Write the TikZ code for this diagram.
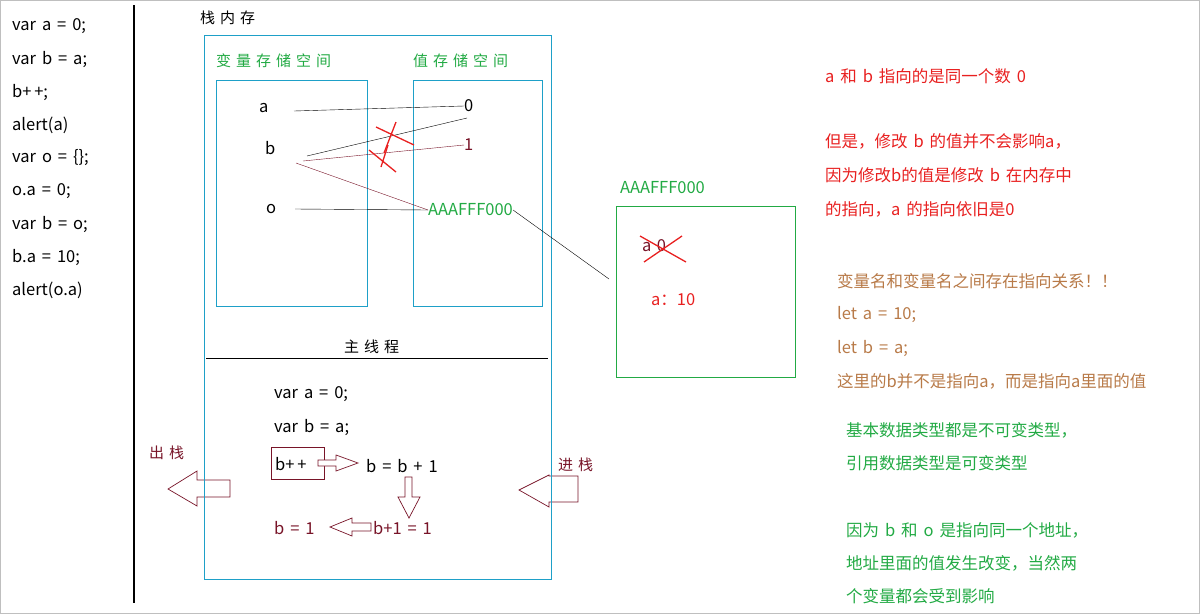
\documentclass[tikz,border=0pt]{standalone}
\usepackage{fontspec}
\setmainfont{Noto Sans CJK SC}[WordSpace=1.6]
\begin{document}
\begin{tikzpicture}[x=1pt,y=-1pt,
  bx/.style={draw=bxc,line width=0.9pt},
  t/.style={anchor=west,inner sep=0,font=\fontsize{16.5}{18}\selectfont},
  hd/.style={anchor=west,inner sep=0,font=\fontsize{15}{18}\selectfont},
  g/.style={t,text=grn}, r/.style={t,text=rd}, br/.style={t,text=brn}, m/.style={t,text=mar},
  barrow/.style={draw=mar,line width=0.7pt,fill=white},
  xx/.style={draw=rd,line width=1.3pt}]
\definecolor{grn}{RGB}{34,170,68}
\definecolor{bxc}{RGB}{30,160,200}
\definecolor{rd}{RGB}{232,32,32}
\definecolor{brn}{RGB}{184,122,72}
\definecolor{mar}{RGB}{120,20,40}
\useasboundingbox (0,0) rectangle (1200,614);
\draw[gray!50] (0.5,0.5) rectangle (1199.5,613.5);
\draw[line width=2pt] (134,5) -- (134,603);
% code
\foreach \s [count=\i from 0] in {var a = 0;,var b = a;,b+\,+;,alert(a),var o = \{\};,o.a = 0;,var b = o;,b.a = 10;,alert(o.a)}
  \node[t] (c\i) at (12,{26+33*\i}) {\s};
% stack
\node[hd] (stk) at (200,18) {栈\,\,内\,\,存};
\draw[bx] (204,35) rectangle (551,579);
\draw[bx] (216,80) rectangle (367,306);
\draw[bx] (413,80) rectangle (542,306);
\node[hd,text=grn] (vl) at (216,61) {变\,\,量\,\,存\,\,储\,\,空\,\,间};
\node[hd,text=grn] (zl) at (413,61) {值\,\,存\,\,储\,\,空\,\,间};
\node[t] (a) at (259,108) {a};
\node[t] (b) at (265,148) {b};
\node[t] (o) at (266,209) {o};
\node[t] (v0) at (464,106) {0};
\node[t,text=mar] (v1) at (464,145) {1};
\node[g] (vA) at (428,210) {AAAFFF000};
\draw (294,111) -- (v0.west);
\draw (307,156) -- (467,118);
\draw[mar] (303,161) -- (v1.west);
\draw[mar] (296,163) -- (vA.west);
\draw (295,209) -- (vA.west);
\draw[xx] (376,127) -- (414,145) (396,122) -- (384,153);
\draw[xx] (369,150) -- (396,172) (388,145) -- (381,167);
% heap
\node[g] (hl) at (620,188) {AAAFFF000};
\draw[bx,draw=grn] (616,206) rectangle (795,377);
\node[t,text=mar] (ha) at (642,246) {a\,\,0};
\draw[xx] (640,236) -- (686,262) (644,262) -- (682,236);
\node[r] (h10) at (651,300) {a：10};
\draw (vA.east) -- (609,279);
% main thread
\draw (206,358) -- (548,358);
\node[hd] (mt) at (344,347) {主\,\,线\,\,程};
\node[t] (m1) at (274,394) {var a = 0;};
\node[t] (m2) at (274,427) {var b = a;};
\node[t] (m3) at (275,464) {b+\,+};
\draw[mar,line width=0.7pt] (271,447) rectangle (324,479);
\node[t] (m4) at (366,466) {b = b + 1};
\node[m] (m5) at (274,528) {b = 1};
\node[m] (m6) at (373,528) {b+1 = 1};
\draw[barrow] (318,460) -- (336,460) -- (336,455) -- (358,463) -- (336,471) -- (336,466) -- (318,466) -- cycle;
\draw[barrow] (405,477) -- (412,477) -- (412,497) -- (420,497) -- (409,518) -- (398,497) -- (405,497) -- cycle;
\draw[barrow] (371,523) -- (352,523) -- (352,518) -- (330,527) -- (352,536) -- (352,531) -- (371,531) -- cycle;
\draw[barrow] (230,480) -- (197,480) -- (197,471) -- (168,489) -- (197,506) -- (197,497) -- (230,497) -- cycle;
\draw[barrow] (578,476) -- (549,476) -- (549,475) -- (519,490) -- (549,507) -- (549,502) -- (578,502) -- cycle;
\draw[bx] (551,470) -- (551,510);
\draw[bx] (204,470) -- (204,510);
\node[hd,text=mar] (out) at (149,453) {出\,\,栈};
\node[hd,text=mar] (in) at (558,465) {进\,\,栈};
% notes
\node[r] (n1) at (825,76) {a 和 b 指向的是同一个数 0};
\node[r] (n2) at (825,141) {但是，修改 b 的值并不会影响a，};
\node[r] (n3) at (825,175) {因为修改b的值是修改 b 在内存中};
\node[r] (n4) at (825,209) {的指向，a 的指向依旧是0};
\node[br] (n5) at (837,281) {变量名和变量名之间存在指向关系！！};
\node[br] (n6) at (837,314) {let a = 10;};
\node[br] (n7) at (837,348) {let b = a;};
\node[br] (n8) at (837,381) {这里的b并不是指向a，而是指向a里面的值};
\node[g] (n9) at (846,430) {基本数据类型都是不可变类型，};
\node[g] (n10) at (846,463) {引用数据类型是可变类型};
\node[g] (n11) at (846,530) {因为 b 和 o 是指向同一个地址，};
\node[g] (n12) at (846,563) {地址里面的值发生改变，当然两};
\node[g] (n13) at (846,596) {个变量都会受到影响};
\end{tikzpicture}
\end{document}
